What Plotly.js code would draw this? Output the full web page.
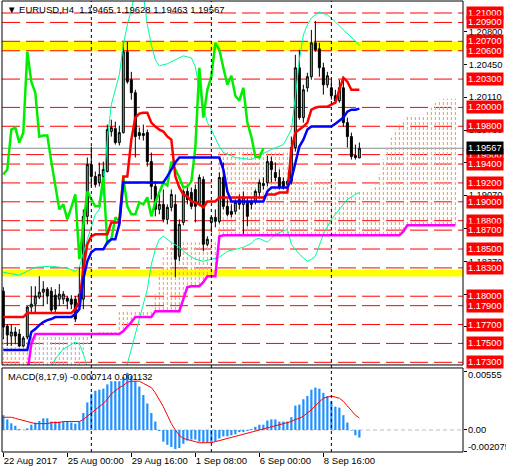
<!DOCTYPE html>
<html><head><meta charset="utf-8">
<script src="https://cdn.plot.ly/plotly-3.0.1.min.js"></script>
<style>html,body{margin:0;padding:0;background:#fff;}#chart{width:506px;height:474px;}</style>
</head><body><div id="chart"></div>
<script>
// ---------- DATA (EURUSD H4, bar index 0 = 22 Aug 2017 08:00) ----------
const openP = [
1.18054,1.17684,1.17578,1.17621,1.17600,1.17473,1.17568,1.17885,1.17916,1.17990,
1.18043,1.18075,1.18054,1.18011,1.17969,1.17969,1.17980,1.17969,1.17969,1.17895,
1.17969,1.18846,1.19395,1.19269,1.19205,1.19269,1.19321,1.19744,1.19775,1.19627,
1.19733,1.20589,1.20293,1.20156,1.19733,1.19723,1.19733,1.19426,1.19163,1.18920,
1.18973,1.18814,1.18941,1.18973,1.18423,1.18782,1.19110,1.19099,1.19131,1.18973,
1.19237,1.18550,1.18782,1.18835,1.18793,1.19258,1.18952,1.18899,1.18899,1.19025,
1.18973,1.19004,1.18973,1.19004,1.19099,1.19194,1.19205,1.19426,1.19311,1.19258,
1.19216,1.19184,1.19216,1.19575,1.20420,1.19892,1.20208,1.20325,1.20684,1.20620,
1.20420,1.20240,1.20208,1.20124,1.20071,1.20208,1.19839,1.19691,1.19490,1.19465];
const highP = [
1.18096,1.17705,1.17705,1.17673,1.17652,1.17578,1.17895,1.18106,1.18106,1.18212,
1.18159,1.18096,1.18096,1.18075,1.18128,1.18054,1.18001,1.18011,1.18001,1.18307,
1.18920,1.19469,1.19585,1.19321,1.19416,1.19426,1.19818,1.19870,1.19849,1.19807,
1.20694,1.20694,1.20377,1.20187,1.19786,1.19818,1.19765,1.19522,1.19216,1.19078,
1.19131,1.18973,1.19131,1.19078,1.18814,1.19131,1.19184,1.19152,1.19184,1.19290,
1.19269,1.18635,1.18846,1.18920,1.19311,1.19416,1.19025,1.18973,1.19025,1.19078,
1.19110,1.19057,1.19025,1.19131,1.19237,1.19258,1.19490,1.19480,1.19416,1.19342,
1.19258,1.19237,1.19691,1.20557,1.20610,1.20240,1.20367,1.20821,1.20916,1.20684,
1.20473,1.20377,1.20293,1.20187,1.20293,1.20293,1.19892,1.19733,1.19606,1.19628];
const lowP = [
1.17547,1.17473,1.17473,1.17494,1.17462,1.17462,1.17547,1.17811,1.17832,1.17969,
1.17895,1.17916,1.17832,1.17832,1.17895,1.17916,1.17863,1.17863,1.17726,1.17885,
1.17863,1.18761,1.19163,1.19152,1.19163,1.19194,1.19311,1.19691,1.19606,1.19596,
1.19723,1.20251,1.20082,1.19469,1.19659,1.19649,1.19374,1.19025,1.18846,1.18867,
1.18782,1.18761,1.18899,1.18202,1.18370,1.18751,1.18973,1.18920,1.18782,1.18952,
1.18476,1.18529,1.18677,1.18730,1.18772,1.18920,1.18846,1.18835,1.18867,1.18920,
1.18656,1.18740,1.18920,1.18973,1.19047,1.19131,1.19163,1.19205,1.19216,1.19131,
1.19131,1.19152,1.19184,1.19532,1.19870,1.19839,1.20166,1.20293,1.20589,1.20325,
1.20135,1.20208,1.20082,1.20040,1.20050,1.19797,1.19575,1.19448,1.19448,1.19463];
const closeP = [
1.17673,1.17589,1.17621,1.17578,1.17473,1.17557,1.17885,1.17916,1.18001,1.18043,
1.18075,1.18001,1.17853,1.17863,1.18022,1.18022,1.17948,1.17916,1.17758,1.18022,
1.18846,1.19395,1.19269,1.19184,1.19290,1.19342,1.19765,1.19786,1.19627,1.19733,
1.20589,1.20272,1.20156,1.19691,1.19702,1.19702,1.19426,1.19163,1.18920,1.18973,
1.18814,1.18941,1.19078,1.18392,1.18761,1.19110,1.19025,1.18952,1.18952,1.19258,
1.18550,1.18603,1.18835,1.18793,1.19258,1.18952,1.18867,1.18867,1.18994,1.18973,
1.19047,1.18846,1.18994,1.19110,1.19205,1.19173,1.19426,1.19342,1.19258,1.19152,
1.19163,1.19216,1.19575,1.20420,1.19892,1.20187,1.20325,1.20684,1.20610,1.20420,
1.20240,1.20335,1.20124,1.20071,1.20208,1.19839,1.19691,1.19480,1.19469,1.19567];

const tenkan = [
1.17779,1.17779,1.17779,1.17779,1.17779,1.17779,1.17821,1.17821,1.17821,1.17821,
1.17821,1.17821,1.17821,1.17821,1.17821,1.17821,1.17821,1.17821,1.17863,1.17937,
1.18286,1.18550,1.18635,1.18656,1.18656,1.18656,1.18656,1.18782,1.18782,1.18782,
1.19269,1.19269,1.19659,1.19892,1.19934,1.19944,1.19944,1.19839,1.19797,1.19765,
1.19744,1.19691,1.19659,1.19269,1.19152,1.19078,1.19057,1.19004,1.18994,1.18973,
1.18941,1.19004,1.19004,1.19004,1.19047,1.19047,1.19047,1.19047,1.19047,1.19047,
1.19047,1.19047,1.19047,1.19047,1.19047,1.19047,1.19078,1.19078,1.19078,1.19099,
1.19099,1.19099,1.19554,1.19733,1.19765,1.19797,1.19839,1.19976,1.19997,1.20008,
1.20008,1.20008,1.20029,1.20050,1.20187,1.20314,1.20272,1.20187,1.20187,1.20187];
const kijun = [
1.17430,1.17430,1.17430,1.17430,1.17430,1.17430,1.17430,1.17621,1.17652,1.17694,
1.17726,1.17747,1.17758,1.17779,1.17779,1.17779,1.17779,1.17779,1.17811,1.17863,
1.18180,1.18370,1.18466,1.18497,1.18497,1.18497,1.18571,1.18603,1.18603,1.18761,
1.19205,1.19205,1.19205,1.19205,1.19205,1.19205,1.19205,1.19205,1.19205,1.19205,
1.19205,1.19269,1.19342,1.19416,1.19469,1.19469,1.19469,1.19469,1.19469,1.19469,
1.19469,1.19469,1.19469,1.19469,1.19469,1.19342,1.19110,1.19004,1.19004,1.19004,
1.19004,1.19004,1.19004,1.19004,1.19004,1.19004,1.19110,1.19152,1.19152,1.19152,
1.19152,1.19152,1.19237,1.19426,1.19585,1.19659,1.19765,1.19797,1.19797,1.19797,
1.19797,1.19797,1.19797,1.19828,1.19860,1.19892,1.19955,1.19976,1.19976,1.19987];
const chikou = [
1.19290,1.19342,1.19765,1.19786,1.19627,1.19733,1.20589,1.20272,1.20156,1.19691,
1.19702,1.19702,1.19426,1.19163,1.18920,1.18973,1.18814,1.18941,1.19078,1.18392,
1.18761,1.19110,1.19025,1.18952,1.18952,1.19258,1.18550,1.18603,1.18835,1.18793,
1.19258,1.18952,1.18867,1.18867,1.18994,1.18973,1.19047,1.18846,1.18994,1.19110,
1.19205,1.19173,1.19426,1.19342,1.19258,1.19152,1.19163,1.19216,1.19575,1.20420,
1.19892,1.20187,1.20325,1.20684,1.20610,1.20420,1.20240,1.20335,1.20124,1.20071,
1.20208,1.19839,1.19691,1.19480,1.19469,1.19567];
const spanA = [
1.17578,1.17578,1.17578,1.17578,1.17578,1.17578,1.17578,1.17578,1.17209,1.17209,
1.17209,1.17209,1.17209,1.17209,1.17209,1.17209,1.17209,1.17209,1.17209,1.17209,
1.17388,1.17494,1.17547,1.17589,1.17621,1.17621,1.17621,1.17621,1.17621,1.17842,
1.17842,1.17842,1.17842,1.17842,1.17842,1.17842,1.17842,1.17842,1.18022,1.18233,
1.18413,1.18540,1.18571,1.18571,1.18571,1.18571,1.18571,1.18571,1.18571,1.18571,
1.18571,1.18571,1.18571,1.18571,1.19554,1.19554,1.19554,1.19554,1.19554,1.19554,
1.19554,1.19554,1.19554,1.19522,1.19522,1.19522,1.19522,1.19522,1.19522,1.19522,
1.19522,1.19522,1.19237,1.19237,1.19237,1.19237,1.19237,1.19237,1.19237,1.19237,
1.19237,1.19237,1.19237,1.19237,1.19110,1.19110,1.19110,1.19110,1.19110,1.19110,
1.19110,1.19110,1.19131,1.19184,1.19290,1.19448,1.19575,1.19680,1.19765,1.19818,
1.19870,1.19902,1.19923,1.19923,1.19923,1.19923,1.19955,1.19997,1.20050,1.20082,
1.20092,1.20092,1.20092,1.20092];
const spanB = [
1.17177,1.17177,1.17177,1.17177,1.17177,1.17177,1.17177,1.17494,1.17600,1.17600,
1.17600,1.17600,1.17600,1.17600,1.17600,1.17600,1.17600,1.17600,1.17600,1.17600,
1.17600,1.17600,1.17600,1.17600,1.17600,1.17600,1.17600,1.17600,1.17600,1.17600,
1.17631,1.17673,1.17726,1.17779,1.17779,1.17779,1.17779,1.17779,1.17842,1.17842,
1.17842,1.17842,1.17842,1.17842,1.17842,1.17969,1.18096,1.18106,1.18106,1.18106,
1.18149,1.18212,1.18212,1.18212,1.18635,1.18645,1.18645,1.18645,1.18645,1.18645,
1.18645,1.18645,1.18645,1.18645,1.18645,1.18645,1.18645,1.18645,1.18645,1.18645,
1.18645,1.18645,1.18645,1.18645,1.18645,1.18645,1.18645,1.18645,1.18645,1.18645,
1.18645,1.18645,1.18645,1.18645,1.18645,1.18645,1.18645,1.18645,1.18645,1.18645,
1.18645,1.18645,1.18645,1.18645,1.18645,1.18645,1.18645,1.18645,1.18645,1.18645,
1.18687,1.18751,1.18751,1.18751,1.18751,1.18751,1.18751,1.18751,1.18751,1.18751,
1.18751,1.18751,1.18751,1.18751];
const bandUpX = [0,4,8,12,16,18,19,21,23,24,25,26,27,28,29,30,31,32,33,34,35,36,37,38,39,41,43,45,47,48,49,51,52,54,55,58,62,64,67,70,72,73,74,75,76,77,79,81,83,85,87,89];
const bandUpY = [1.18254,1.18223,1.18307,1.18318,1.18297,1.18265,1.18307,1.18603,1.18867,1.18920,
1.19131,1.19659,1.20029,1.20187,1.20346,1.20663,1.20874,1.21032,1.21244,1.21296,
1.21191,1.20874,1.20663,1.20504,1.20441,1.20462,1.20504,1.20546,1.20525,1.20430,
1.20187,1.19839,1.19765,1.19585,1.19522,1.19469,1.19448,1.19490,1.19554,1.19606,
1.19765,1.20113,1.20504,1.20768,1.20874,1.20947,1.21011,1.20980,1.20906,1.20821,
1.20737,1.20663];
const bandLoX = [0,10,12,13,15,17,18,19,20,21,22,29,31,32,33,34,35,36,37,38,39,40,42,44,46,48,50,52,54,56,58,60,62,63,64,66,68,70,71,72,74,76,77,78,79,80,81,82,84,86,88,89];
const bandLoY = [1.17124,1.17177,1.17251,1.17335,1.17441,1.17494,1.17515,1.17494,1.17388,1.17251,
1.17124,1.17018,1.17282,1.17441,1.17600,1.17758,1.17916,1.18075,1.18339,1.18497,
1.18603,1.18635,1.18571,1.18518,1.18444,1.18392,1.18370,1.18392,1.18413,1.18476,
1.18497,1.18518,1.18561,1.18603,1.18613,1.18571,1.18656,1.18687,1.18708,1.18550,
1.18444,1.18370,1.18392,1.18423,1.18550,1.18656,1.18740,1.18814,1.18920,1.19025,
1.19078,1.19099];
const macdHist = [
0.0014,0.0010,0.00063,0.0004,0.0001,0.00002,0.00016,0.0005,0.0007,0.00085,
0.0011,0.0011,0.0008,0.0008,0.0008,0.0008,0.0008,0.0007,0.0006,0.0008,
0.0016,0.0026,0.0034,0.0037,0.0038,0.0039,0.0043,0.0046,0.0046,0.0046,
0.0050,0.0054,0.0051,0.0046,0.0041,0.0033,0.0025,0.0016,0.0008,-0.0001,
-0.0011,-0.0014,-0.0016,-0.0018,-0.0017,-0.0013,-0.0010,-0.0009,-0.0009,-0.0011,
-0.0012,-0.0012,-0.0012,-0.0011,-0.0008,-0.0006,-0.0006,-0.0005,-0.0004,-0.0002,
-0.0002,-0.0001,0.0001,0.0003,0.0005,0.0005,0.0009,0.0010,0.0010,0.0008,
0.0008,0.0008,0.0012,0.0023,0.0024,0.0029,0.0032,0.0038,0.0040,0.0039,
0.0035,0.0032,0.0027,0.0022,0.0021,0.0014,0.0007,-0.00005,-0.0005,-0.000714];
const macdSignal = [
0.0012,0.0012,0.0012,0.0011,0.0010,0.0009,0.0008,0.0007,0.0006,0.0006,
0.0006,0.0006,0.0007,0.0007,0.0007,0.0008,0.0008,0.0008,0.0008,0.0008,
0.0010,0.0013,0.0016,0.0019,0.0022,0.0025,0.0029,0.0034,0.0037,0.0040,
0.0042,0.0045,0.0046,0.0046,0.0046,0.0044,0.0042,0.0040,0.0035,0.0029,
0.0022,0.0014,0.0006,0.0000,-0.0005,-0.0008,-0.0009,-0.0010,-0.0011,-0.0012,
-0.0012,-0.0012,-0.0012,-0.0011,-0.0010,-0.0009,-0.0008,-0.0007,-0.0006,-0.0005,
-0.0004,-0.0003,-0.0002,-0.0001,0.0000,0.0001,0.0002,0.0003,0.0004,0.0005,
0.0006,0.0007,0.0008,0.0010,0.0011,0.0013,0.0016,0.0019,0.0023,0.0027,
0.0030,0.0031,0.0032,0.0031,0.0030,0.0027,0.0023,0.0018,0.0014,0.001132];
const levels = [1.210,1.209,1.207,1.206,1.203,1.200,1.198,1.195,1.194,1.192,1.190,1.188,1.187,1.185,1.183,1.180,1.179,1.177,1.175,1.173];
const yellowZones = [[1.2060,1.2070],[1.1821,1.1828]];
const separators = [22,52,82];
const xTickIdx = [0,16,32,48,64,80];
const xTickText = ['22 Aug 2017','25 Aug 00:00','29 Aug 16:00','1 Sep 08:00','6 Sep 00:00','8 Sep 16:00'];
const priceTicks = [1.2080,1.2045,1.2011,1.1976,1.1942,1.1907,1.1872,1.1837,1.1802,1.1768];
const lastPrice = 1.19567;
const macdScale = [0.00555,0,-0.002075];
const macdScaleText = ['0.00555','0.00','-0.002075'];
const titleText = '\u25BC EURUSD,H4  1.19465 1.19628 1.19463 1.19567';
const macdText = 'MACD(8,17,9) -0.000714 0.001132';

// ---------- BUILD ----------
const FONT = 'Liberation Sans, Arial, sans-serif';
const idx = closeP.map((_, i) => i);
const cloudIdx = spanA.map((_, i) => i);
const upX=[],upB=[],upH=[],dnX=[],dnB=[],dnH=[];
spanA.forEach((a,i)=>{const b=spanB[i]; if(a>=b){upX.push(i);upB.push(b);upH.push(a-b);} else {dnX.push(i);dnB.push(a);dnH.push(b-a);}});
const hatch = (x,base,h,col)=>({type:'bar',x:x,y:h,base:base,width:0.28,xaxis:'x',yaxis:'y',hoverinfo:'skip',
  marker:{color:col,line:{width:0},pattern:{shape:'-',fgcolor:col,bgcolor:'rgba(0,0,0,0)',size:5,solidity:0.6,fillmode:'replace'}}});
const line = (x,y,col,w,extra)=>Object.assign({type:'scatter',mode:'lines',x:x,y:y,xaxis:'x',yaxis:'y',hoverinfo:'skip',line:{color:col,width:w}},extra||{});

const traces = [
  hatch(upX,upB,upH,'#F4A460'),
  hatch(dnX,dnB,dnH,'#C9A9C9'),
  {type:'candlestick',x:idx,open:openP,high:highP,low:lowP,close:closeP,xaxis:'x',yaxis:'y',whiskerwidth:0,hoverinfo:'skip',
   increasing:{line:{color:'#000',width:1},fillcolor:'#3cc47c'},decreasing:{line:{color:'#000',width:1},fillcolor:'#000'}},
  line(bandUpX,bandUpY,'#00FA9A',1),
  line(bandLoX,bandLoY,'#00FA9A',1),
  line(cloudIdx,spanB,'#FF00FF',2.5),
  line(chikou.map((_,i)=>i),chikou,'#00EE00',2.5),
  line(idx,tenkan,'#FF0000',2.5),
  line(idx,kijun,'#0000FF',2.5),
  {type:'bar',x:idx,y:macdHist,width:0.55,xaxis:'x2',yaxis:'y2',hoverinfo:'skip',marker:{color:'#1E90FF',line:{width:0}}},
  {type:'scatter',mode:'lines',x:idx,y:macdSignal,xaxis:'x2',yaxis:'y2',hoverinfo:'skip',line:{color:'#FF0000',width:1}}
];

const shapes = [];
yellowZones.forEach(z=>shapes.push({type:'rect',xref:'paper',x0:0,x1:1,yref:'y',y0:z[0],y1:z[1],fillcolor:'#FFFF00',line:{width:0},layer:'below'}));
levels.forEach(l=>shapes.push({type:'line',xref:'paper',x0:0,x1:1,yref:'y',y0:l,y1:l,line:{color:'#FF0000',width:1,dash:'18px,6px'},layer:'below'}));
shapes.push({type:'line',xref:'paper',x0:0,x1:1,yref:'y',y0:lastPrice,y1:lastPrice,line:{color:'#8c8c8c',width:1},layer:'below'});
shapes.push({type:'line',xref:'paper',x0:0,x1:1,yref:'y2',y0:0,y1:0,line:{color:'#BEBEBE',width:1,dash:'4px,3px'},layer:'below'});
separators.forEach(s=>shapes.push({type:'line',xref:'x',x0:s,x1:s,yref:'paper',y0:0,y1:1,line:{color:'#000',width:1,dash:'3px,3px'},layer:'above'}));
shapes.push({type:'rect',xref:'paper',x0:0,x1:1,yref:'paper',y0:0.1930,y1:1,line:{color:'#000',width:1},fillcolor:'rgba(0,0,0,0)',layer:'above'});
shapes.push({type:'rect',xref:'paper',x0:0,x1:1,yref:'paper',y0:0,y1:0.1863,line:{color:'#000',width:1},fillcolor:'rgba(0,0,0,0)',layer:'above'});

const annotations = [];
levels.forEach(l=>annotations.push({xref:'paper',x:1,xanchor:'left',xshift:3,yref:'y',y:l,yanchor:'middle',text:l.toFixed(5),showarrow:false,
  bgcolor:'#FF0000',borderpad:1,font:{family:FONT,size:9.3,color:'#FFFFFF'}}));
annotations.push({xref:'paper',x:1,xanchor:'left',xshift:3,yref:'y',y:lastPrice,yanchor:'middle',text:lastPrice.toFixed(5),showarrow:false,
  bgcolor:'#000000',borderpad:1,font:{family:FONT,size:9.3,color:'#FFFFFF'}});
macdScale.forEach((v,i)=>annotations.push({xref:'paper',x:1,xanchor:'left',xshift:3,yref:'y2',y:v,yanchor:'middle',yshift:[-4,0,5][i],text:macdScaleText[i],showarrow:false,font:{family:FONT,size:9.3,color:'#000'}}));
annotations.push({xref:'paper',x:0,xanchor:'left',xshift:4,yref:'paper',y:0.1863,yanchor:'top',yshift:-2,text:macdText,showarrow:false,font:{family:FONT,size:9.3,color:'#000'}});

const xr = [-0.325,114.9];
const layout = {
  width:506,height:474,margin:{l:2,r:43,t:1,b:22},
  paper_bgcolor:'#FFFFFF',plot_bgcolor:'#FFFFFF',showlegend:false,
  font:{family:FONT,size:9.3,color:'#000'},
  title:{text:titleText,xref:'container',x:7/506,xanchor:'left',yref:'container',y:1-10/474,yanchor:'middle',font:{family:FONT,size:9.5,color:'#000'}},
  barmode:'overlay',
  xaxis:{domain:[0,1],range:xr,anchor:'y',showticklabels:false,showgrid:false,zeroline:false,showline:false,ticks:'',rangeslider:{visible:false},fixedrange:true},
  yaxis:{domain:[0.1930,1],range:[1.17272,1.21127],side:'right',anchor:'x',showgrid:false,zeroline:false,showline:false,
    ticks:'outside',ticklen:3,tickcolor:'#000',tickvals:priceTicks,ticktext:priceTicks.map(v=>v.toFixed(5)),tickfont:{family:FONT,size:9.3,color:'#000'}},
  xaxis2:{domain:[0,1],range:xr,anchor:'y2',showgrid:false,zeroline:false,showline:false,ticks:'outside',ticklen:4,tickcolor:'#000',
    tickvals:xTickIdx,ticktext:xTickText,tickangle:0,ticklabelposition:'outside right',tickfont:{family:FONT,size:9.5,color:'#000'},rangeslider:{visible:false}},
  yaxis2:{domain:[0,0.1863],range:[-0.002075,0.005849],side:'right',anchor:'x2',showgrid:false,zeroline:false,showline:false,
    ticks:'outside',ticklen:3,tickcolor:'#000',tickvals:macdScale,showticklabels:false},
  shapes:shapes,annotations:annotations
};
Plotly.newPlot('chart',traces,layout,{staticPlot:true,displayModeBar:false});
</script></body></html>
